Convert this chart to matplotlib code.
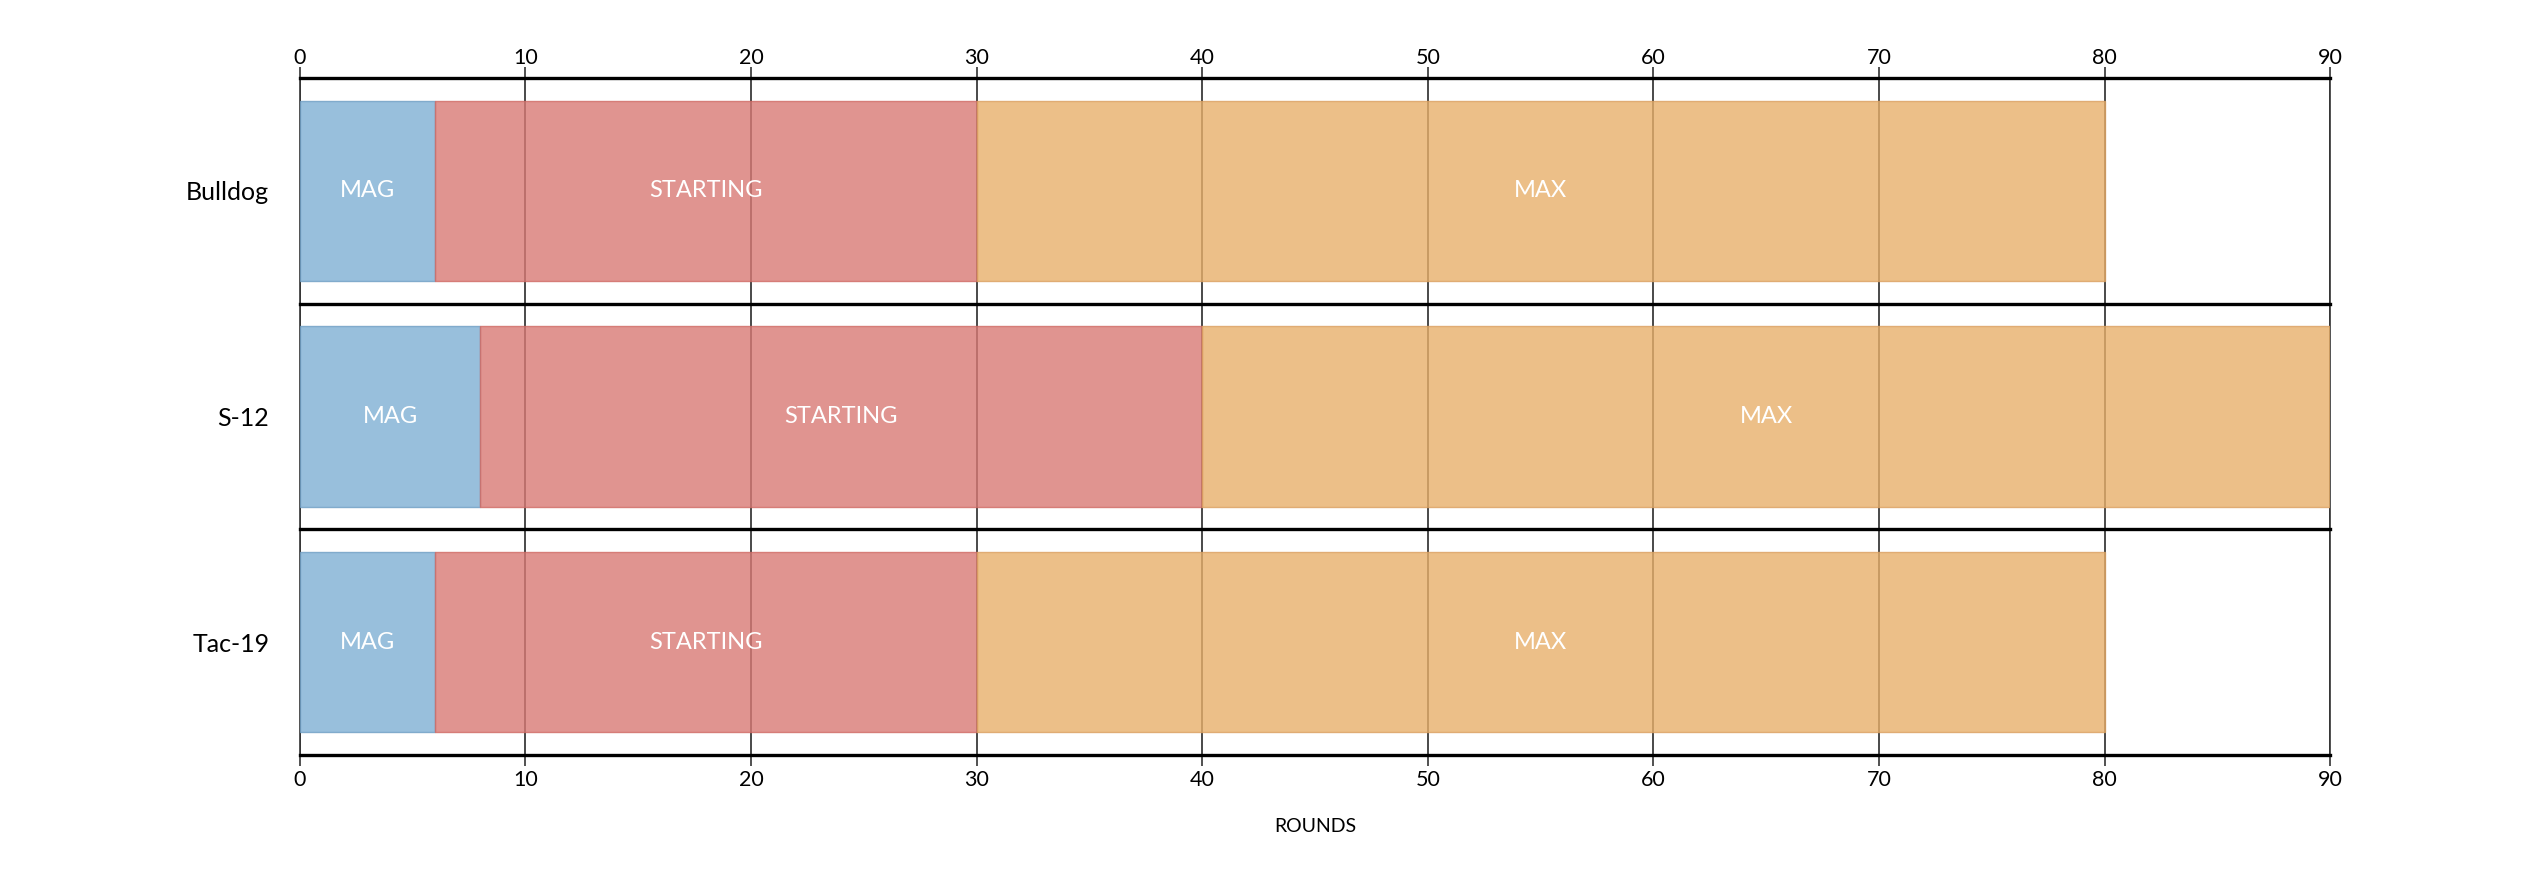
import matplotlib
matplotlib.use("Agg")
import matplotlib.pyplot as plt
from matplotlib.transforms import ScaledTranslation
import numpy as np

plt.rcParams['font.family'] = ['Lato', 'DejaVu Sans']

weapons = ["Bulldog", "S-12", "Tac-19"]
mag = [6, 8, 6]
starting = [30, 40, 30]
max_rounds = [80, 90, 80]
segment_names = ["MAG", "STARTING", "MAX"]
x_ticks = [0, 10, 20, 30, 40, 50, 60, 70, 80, 90]

colors = ["#7fb0d4", "#d97a74", "#e8b06a"]
edges = ["#6f9fc4", "#d06a64", "#dba060"]

fig = plt.figure(figsize=(25.46, 8.73), dpi=100)
ax = fig.add_axes([0.1178, 0.1352, 0.9152 - 0.1178, 0.9107 - 0.1352])

y = np.arange(len(weapons))
starts = [np.zeros(len(weapons)), np.array(mag), np.array(starting)]
ends = [np.array(mag), np.array(starting), np.array(max_rounds)]

for name, s, e, c, ec in zip(segment_names, starts, ends, colors, edges):
    ax.barh(y, e - s, left=s, height=0.8, color=c, edgecolor=ec,
            linewidth=1.0, alpha=0.8, zorder=2)
    for yi, si, ei in zip(y, s, e):
        ax.text((si + ei) / 2, yi, name, ha="center", va="center",
                color="white", fontsize=17, zorder=4)

ax.set_xlim(0, 90)
ax.set_ylim(2.5, -0.5)
ax.set_xticks(x_ticks)
ax.set_yticks(y)
ax.set_yticklabels(weapons, fontsize=18)
ax.tick_params(axis="y", length=0, pad=22)
ax.tick_params(axis="x", top=True, labeltop=True, bottom=True, labelbottom=True,
               length=8, width=1.2, color="#333333", labelsize=15.5, pad=3)

shift = ScaledTranslation(0, -5 / 100, fig.dpi_scale_trans)
for tick in ax.xaxis.get_major_ticks():
    tick.label2.set_transform(tick.label2.get_transform() + shift)

ax.grid(axis="x", color="#3a3a3a", linewidth=1.3, zorder=1)
ax.grid(axis="y", visible=False)
ax.set_axisbelow(True)

for yl in [-0.5, 0.5, 1.5, 2.5]:
    ax.axhline(yl, color="black", linewidth=2.4, zorder=5, clip_on=False)

for side in ["top", "bottom"]:
    ax.spines[side].set_visible(False)
for side in ["left", "right"]:
    ax.spines[side].set_color("#333333")
    ax.spines[side].set_linewidth(1.2)
    ax.spines[side].set_zorder(1)

ax.set_xlabel("ROUNDS", fontsize=14, labelpad=20)

fig.savefig("out.png", dpi=100)
